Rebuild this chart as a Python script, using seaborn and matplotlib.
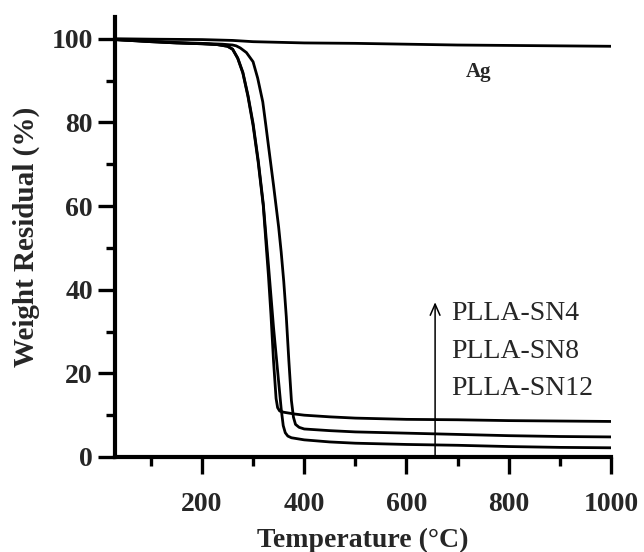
import matplotlib
matplotlib.use("Agg")
import matplotlib.pyplot as plt
import seaborn as sns
import pandas as pd

# ---- data ----
ag_temp = [30, 100, 200, 260, 300, 400, 500, 600, 700, 800, 900, 1000]
ag_wt = [100.0, 99.9, 99.8, 99.6, 99.3, 99.0, 98.9, 98.7, 98.5, 98.4, 98.3, 98.2]

a_temp = [30, 100, 150, 200, 230, 250, 260, 270, 280, 290, 300, 310, 320, 326,
          330, 335, 340, 345, 348, 352, 360, 380, 400, 450, 500, 600, 700, 800,
          900, 1000]
a_wt = [99.8, 99.3, 99.0, 98.8, 98.6, 98.2, 97.5, 95.3, 91.8, 86.2, 79.3, 70.5,
        60.0, 50.0, 43.5, 34.0, 23.0, 14.0, 11.8, 11.0, 10.7, 10.3, 10.0, 9.6,
        9.3, 9.0, 8.9, 8.7, 8.6, 8.5]

b_temp = [30, 100, 150, 200, 230, 250, 260, 270, 280, 290, 300, 310, 320, 330,
          340, 350, 355, 359, 363, 368, 375, 385, 400, 450, 500, 600, 700, 800,
          900, 1000]
b_wt = [99.8, 99.3, 99.0, 98.8, 98.6, 98.2, 97.5, 95.4, 92.0, 86.5, 79.8, 71.0,
        60.5, 46.0, 31.0, 18.0, 11.5, 7.5, 5.8, 5.0, 4.6, 4.4, 4.1, 3.6, 3.3,
        3.0, 2.8, 2.5, 2.3, 2.2]

c_temp = [30, 100, 150, 200, 240, 260, 267, 275, 287, 300, 309, 319, 325, 330,
          340, 350, 355, 360, 365, 370, 375, 379, 383, 390, 400, 450, 500, 600,
          700, 800, 900, 1000]
c_wt = [99.8, 99.4, 99.1, 98.9, 98.7, 98.5, 98.3, 97.8, 96.7, 94.5, 90.6, 84.9,
        79.3, 74.5, 65.0, 55.0, 49.0, 42.0, 33.5, 23.0, 13.5, 9.5, 7.8, 7.1, 6.7,
        6.3, 6.0, 5.7, 5.4, 5.1, 4.9, 4.8]

series_names = ["Ag", "A", "B", "C"]
x_major = [200, 400, 600, 800, 1000]
x_minor = [100, 300, 500, 700, 900]
y_major = [0, 20, 40, 60, 80, 100]
y_minor = [10, 30, 50, 70, 90]
sample_labels = ["PLLA-SN4", "PLLA-SN8", "PLLA-SN12"]

frames = []
for name, t, w in zip(series_names, [ag_temp, a_temp, b_temp, c_temp],
                      [ag_wt, a_wt, b_wt, c_wt]):
    frames.append(pd.DataFrame({"temp": t, "wt": w, "series": name}))
df = pd.concat(frames, ignore_index=True)

sns.set_style("ticks")
plt.rcParams["font.family"] = ["Liberation Serif", "DejaVu Serif"]

fig = plt.figure(figsize=(6.44, 5.52), dpi=100)
ax = fig.add_axes([115 / 644, 1 - 457 / 552, (611 - 115) / 644, (457 - 17) / 552])

sns.lineplot(data=df, x="temp", y="wt", units="series", estimator=None,
             color="black", linewidth=2.0, sort=False, ax=ax, legend=False)

ax.set_xlim(30, 1000)
ax.set_ylim(0, 105.2)
ax.set_xticks(x_major)
ax.set_xticks(x_minor, minor=True)
ax.set_yticks(y_major)
ax.set_yticks(y_minor, minor=True)
ax.set_xticklabels([str(v) for v in x_major], fontsize=20, fontweight="bold")
ax.set_yticklabels([str(v) for v in y_major], fontsize=20, fontweight="bold")
ax.tick_params(axis="both", which="major", length=12, width=2.4, direction="out",
               color="black", pad=4)
ax.tick_params(axis="both", which="minor", length=6.5, width=2.4, direction="out",
               color="black")
ax.tick_params(axis="x", which="major", pad=13)

for s in ["top", "right"]:
    ax.spines[s].set_visible(False)
for s in ["left", "bottom"]:
    ax.spines[s].set_linewidth(3.0)
    ax.spines[s].set_color("black")

ax.set_xlabel("Temperature (\u00b0C)", fontsize=20, fontweight="bold", labelpad=8)
ax.set_ylabel("Weight Residual (%)", fontsize=21, fontweight="bold", labelpad=8)

ax.text(741, 92, "Ag", fontsize=15, fontweight="bold", ha="center", va="center")

ax.annotate("", xy=(656, 37.0), xytext=(656, 0),
            arrowprops=dict(arrowstyle="->,head_length=0.8,head_width=0.35",
                            color="black", lw=1.1, shrinkA=0, shrinkB=0))
for i, lab in enumerate(sample_labels):
    ax.text(688, 34.2 - i * 8.9, lab, fontsize=20, ha="left", va="center")

fig.savefig("out.png", dpi=100)
